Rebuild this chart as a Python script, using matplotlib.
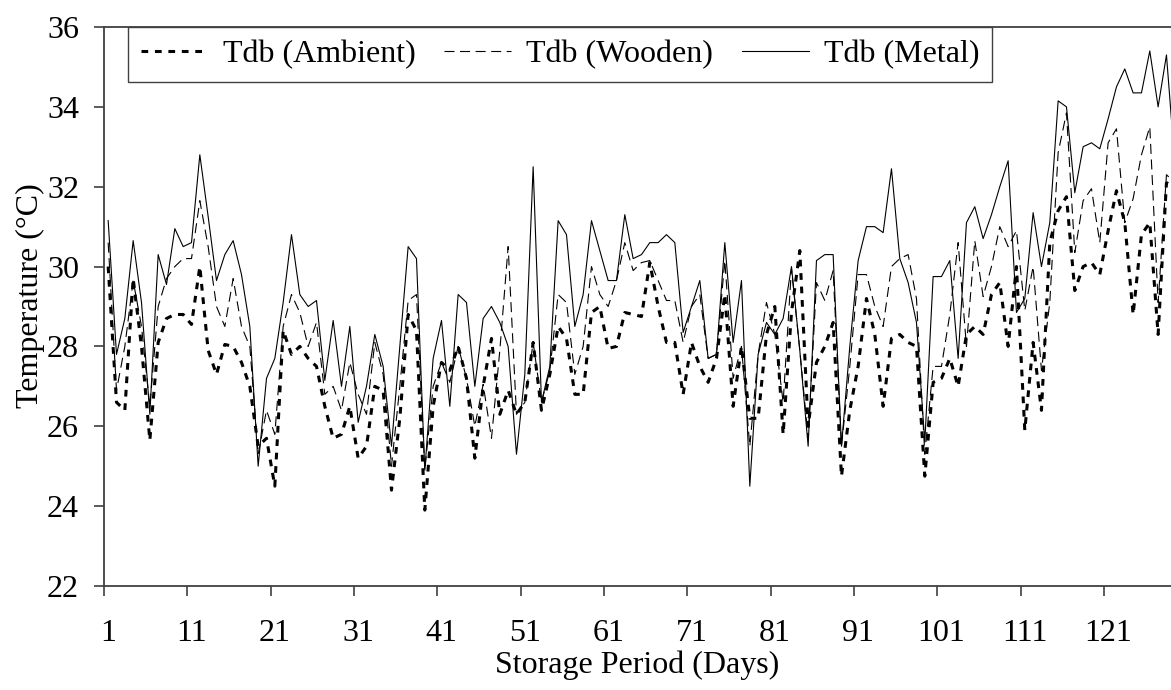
#!/usr/bin/env python3
"""Tdb in ambient air, wooden and metal storage over the storage period"""

import matplotlib
matplotlib.use("Agg")
import matplotlib.pyplot as plt
import numpy as np

plt.rcParams["font.family"] = ["Liberation Serif", "DejaVu Serif"]

# ── data (°C) ──
AMBIENT = [
    30.0, 26.6, 26.4, 29.7, 28.0, 25.65, 28.1, 28.7, 28.8, 28.8,
    28.55, 30.0, 27.9, 27.3, 28.05, 28.0, 27.6, 27.0, 25.5, 25.7,
    24.5, 28.4, 27.8, 28.0, 27.7, 27.5, 26.5, 25.7, 25.8, 26.5,
    25.2, 25.5, 27.0, 26.9, 24.4, 26.2, 28.8, 28.4, 23.9, 26.5,
    27.6, 27.4, 28.0, 27.2, 25.2, 27.0, 28.2, 26.3, 26.9, 26.3,
    26.6, 28.1, 26.4, 27.3, 28.5, 28.2, 26.8, 26.8, 28.85, 29.0,
    27.95, 28.0, 28.85, 28.8, 28.75, 30.1, 29.0, 28.1, 28.1, 26.8,
    28.1, 27.5, 27.1, 27.7, 29.3, 26.5, 28.0, 26.2, 26.2, 28.3,
    29.0, 25.8, 28.85, 30.4, 26.0, 27.6, 28.0, 28.6, 24.75, 26.4,
    27.5, 29.2, 28.3, 26.5, 28.2, 28.3, 28.1, 28.0, 24.75, 27.1,
    27.2, 27.7, 27.0, 28.3, 28.5, 28.3, 29.3, 29.6, 28.0, 30.0,
    25.9, 28.1, 26.4, 30.6, 31.4, 31.75, 29.4, 30.0, 30.1, 29.8,
    30.9, 31.9, 31.1, 28.8, 30.8, 31.1, 28.3, 32.1, 32.0,
]
WOODEN = [
    30.6, 26.9, 28.0, 29.65, 28.5, 26.5, 29.0, 29.7, 30.0, 30.2,
    30.2, 31.65, 30.5, 29.0, 28.5, 29.7, 28.5, 28.0, 25.3, 26.4,
    25.8, 28.5, 29.3, 28.85, 28.0, 28.6, 26.8, 27.0, 26.4, 27.6,
    26.8, 26.3, 28.1, 27.3, 25.0, 27.0, 29.15, 29.3, 24.9, 27.0,
    27.6, 27.1, 28.0, 27.2, 26.0, 27.05, 25.7, 27.9, 30.5, 26.3,
    26.6, 28.1, 26.6, 27.4, 29.3, 29.1, 27.3, 28.0, 30.0, 29.3,
    29.0, 29.65, 30.6, 29.9, 30.1, 30.15, 29.65, 29.15, 29.15, 28.1,
    29.0, 29.3, 27.7, 27.8, 30.15, 27.2, 28.0, 25.5, 27.8, 29.1,
    28.3, 26.6, 29.95, 27.9, 25.7, 29.6, 29.15, 29.9, 25.5, 27.5,
    29.8, 29.8, 29.0, 28.5, 30.0, 30.2, 30.3, 29.2, 25.3, 27.5,
    27.5, 28.8, 30.6, 28.0, 30.65, 29.25, 30.0, 31.0, 30.5, 30.9,
    28.9, 30.0, 27.4, 29.1, 32.85, 33.85, 30.35, 31.65, 31.95, 30.6,
    33.1, 33.45, 31.1, 31.7, 32.8, 33.5, 29.1, 32.3, 32.1,
]
METAL = [
    31.15, 27.8, 28.7, 30.65, 29.1, 26.3, 30.3, 29.55, 30.95, 30.5,
    30.6, 32.8, 31.25, 29.65, 30.3, 30.65, 29.8, 28.5, 25.0, 27.2,
    27.7, 29.1, 30.8, 29.3, 29.0, 29.15, 27.15, 28.65, 27.0, 28.5,
    26.1, 27.0, 28.3, 27.5, 25.5, 28.0, 30.5, 30.2, 24.9, 27.7,
    28.65, 26.5, 29.3, 29.1, 27.0, 28.7, 29.0, 28.6, 28.0, 25.3,
    27.3, 32.5, 26.6, 27.5, 31.15, 30.8, 28.5, 29.3, 31.15, 30.4,
    29.65, 29.65, 31.3, 30.2, 30.3, 30.6, 30.6, 30.8, 30.6, 28.35,
    29.0, 29.65, 27.7, 27.8, 30.6, 28.1, 29.65, 24.5, 27.8, 28.6,
    28.3, 28.7, 30.0, 27.9, 25.5, 30.15, 30.3, 30.3, 25.5, 28.0,
    30.15, 31.0, 31.0, 30.85, 32.45, 30.2, 29.6, 28.6, 25.6, 29.75,
    29.75, 30.15, 27.7, 31.1, 31.5, 30.7, 31.3, 32.0, 32.65, 28.85,
    29.2, 31.35, 30.0, 31.1, 34.15, 34.0, 31.85, 33.0, 33.1, 32.95,
    33.7, 34.5, 34.95, 34.35, 34.35, 35.4, 34.0, 35.3, 32.6,
]
DAYS = np.arange(1, len(METAL) + 1)
LABEL_DAYS = list(range(1, 122, 10))
Y_TICKS = list(range(22, 37, 2))

AXIS = "#404040"
FS = 23


def main():
    fig = plt.figure(figsize=(11.71, 6.90), dpi=100)
    ax = fig.add_axes([104 / 1171, 1 - 586 / 690, 1067 / 1171, 559 / 690])

    ax.plot(DAYS, AMBIENT, color="black", linewidth=2.2,
            linestyle=(0, (2.2, 2.2)), label="Tdb (Ambient)")
    ax.plot(DAYS, WOODEN, color="black", linewidth=0.8,
            linestyle=(0, (9, 5)), label="Tdb (Wooden)")
    ax.plot(DAYS, METAL, color="black", linewidth=0.8,
            linestyle="-", label="Tdb (Metal)")

    ax.set_xlim(0.5, 0.5 + 1067 / 8.333)
    ax.set_ylim(22, 36)

    # ticks on category boundaries, labels centred on the categories
    ax.set_xticks([d - 0.5 for d in LABEL_DAYS])
    ax.set_xticklabels([])
    ax.set_xticks(LABEL_DAYS, minor=True)
    ax.set_xticklabels([str(d) for d in LABEL_DAYS], minor=True)
    ax.set_yticks(Y_TICKS)

    ax.tick_params(axis="x", which="major", direction="out", length=7,
                   width=1.2, color=AXIS)
    ax.tick_params(axis="x", which="minor", length=0, pad=24, labelsize=FS)
    ax.tick_params(axis="y", direction="out", length=7, width=1.2,
                   color=AXIS, pad=11, labelsize=FS)

    for side in ["left", "bottom", "top"]:
        ax.spines[side].set_color(AXIS)
        ax.spines[side].set_linewidth(1.3)
    ax.spines["right"].set_visible(False)

    ax.set_xlabel("Storage Period (Days)", fontsize=FS)
    ax.set_ylabel("Temperature (\u00b0C)", fontsize=FS)
    ax.xaxis.set_label_coords(0.5, -0.115)
    ax.yaxis.set_label_coords(-0.055, 0.52)

    leg = ax.legend(loc="upper left", ncol=3, fontsize=FS, frameon=True,
                    fancybox=False, edgecolor=AXIS, framealpha=1,
                    bbox_to_anchor=(128 / 1171, 1 - 27 / 690),
                    bbox_transform=fig.transFigure, borderaxespad=0,
                    borderpad=0.4, handlelength=2.1, handletextpad=0.47,
                    columnspacing=0.9)
    leg.get_frame().set_linewidth(1.0)

    fig.savefig("out.png", dpi=100, facecolor="white")
    plt.close(fig)


if __name__ == "__main__":
    main()
